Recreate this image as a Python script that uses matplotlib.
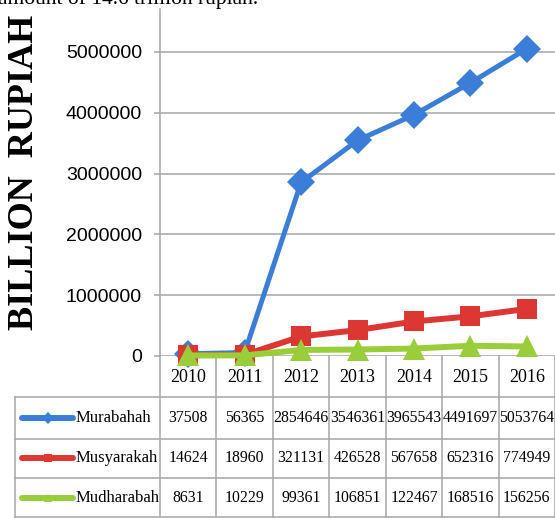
import matplotlib
matplotlib.use("Agg")
import matplotlib.pyplot as plt
import matplotlib.transforms as mtransforms
from matplotlib.lines import Line2D

years = ["2010", "2011", "2012", "2013", "2014", "2015", "2016"]
murabahah = [37508, 56365, 2854646, 3546361, 3965543, 4491697, 5053764]
musyarakah = [14624, 18960, 321131, 426528, 567658, 652316, 774949]
mudharabah = [8631, 10229, 99361, 106851, 122467, 168516, 156256]
series_names = ["Murabahah", "Musyarakah", "Mudharabah"]
y_ticks = [0, 1000000, 2000000, 3000000, 4000000, 5000000]

colors = ["#3a7ed8", "#dc3732", "#9acd3a"]
markers = ["D", "s", "^"]
msizes = [14, 15, 16]
lws = [3.6, 4.3, 4.3]

W, H = 555, 518
fig = plt.figure(figsize=(W / 100, H / 100), dpi=100)

# axes geometry in pixels
ax_l, ax_r, ax_t, ax_b = 160, 555, 9, 356
ax = fig.add_axes([ax_l / W, 1 - ax_b / H, (ax_r - ax_l) / W, (ax_b - ax_t) / H])

grid_c = "#a6a6a6"
serif = ["Liberation Serif", "DejaVu Serif"]
sans = ["Liberation Sans", "DejaVu Sans"]

x = [i + 0.5 for i in range(len(years))]
data = [murabahah, musyarakah, mudharabah]
for vals, c, m, ms, lw in zip(data, colors, markers, msizes, lws):
    ax.plot(x, vals, color=c, marker=m, markersize=ms, linewidth=lw,
            markeredgewidth=0, clip_on=False, zorder=3)

ax.set_xlim(0, len(years))
ymax = (ax_b - ax_t) / 60.8 * 1e6
ax.set_ylim(0, ymax)
ax.set_yticks(y_ticks)
ax.set_yticklabels([str(v) for v in y_ticks], family=sans, fontsize=14)
ax.set_xticks([])
for v in y_ticks:
    ax.axhline(v, color=grid_c, lw=1.1, zorder=1)
for s in ["top", "right", "bottom"]:
    ax.spines[s].set_visible(False)
ax.spines["left"].set_color(grid_c)
ax.spines["left"].set_linewidth(1.1)
ax.tick_params(axis="y", length=4, color=grid_c, width=1.1, pad=9)

# table geometry (pixels -> axes fraction)
def ya(py):
    return (ax_b - py) / (ax_b - ax_t)

px_per_cat = (ax_r - ax_l) / len(years)
def xd(px):
    return (px - ax_l) / px_per_cat

trans = mtransforms.blended_transform_factory(ax.transData, ax.transAxes)
row_lines = [397, 439, 478, 517]
tbl_left = xd(15)
tbl_bottom = ya(517)

def tline(xs, ys):
    ax.add_line(Line2D(xs, ys, transform=trans, color=grid_c, lw=1.1,
                       clip_on=False, zorder=1))

for i in range(len(years) + 1):
    tline([i, i], [0, tbl_bottom])
tline([tbl_left, tbl_left], [ya(397), tbl_bottom])
for ry in row_lines:
    tline([tbl_left, len(years)], [ya(ry), ya(ry)])

# header labels
for xi, yr in zip(x, years):
    ax.text(xi, ya(378), yr, transform=trans, ha="center", va="center",
            family=serif, fontsize=13)

row_centers = [418, 458, 498]
for name, vals, c, m, rc in zip(series_names, data, colors, markers, row_centers):
    yy = ya(rc)
    ax.add_line(Line2D([xd(22), xd(73)], [yy, yy], transform=trans, color=c,
                       lw=4.3, solid_capstyle="round", clip_on=False))
    ax.add_line(Line2D([xd(47.5)], [yy], transform=trans, color=c, marker=m,
                       markersize=6, markeredgewidth=0, clip_on=False))
    ax.text(xd(76), yy, name, transform=trans, ha="left", va="center",
            family=serif, fontsize=12)
    for xi, v in zip(x, vals):
        ax.text(xi, yy, str(v), transform=trans, ha="center", va="center",
                family=serif, fontsize=11.3)

# y-axis title
fig.text(25 / W, 1 - 172 / H, "BILLION  RUPIAH", rotation=90, ha="center",
         va="center", family=serif, fontweight="bold", fontsize=26)

# clipped caption text from the page above
fig.text(-2 / W, 1 - 4 / H, "amount of 14.6 trillion rupiah.", ha="left",
         va="baseline", family=serif, fontsize=15.5)

fig.savefig("out.png", dpi=100)
